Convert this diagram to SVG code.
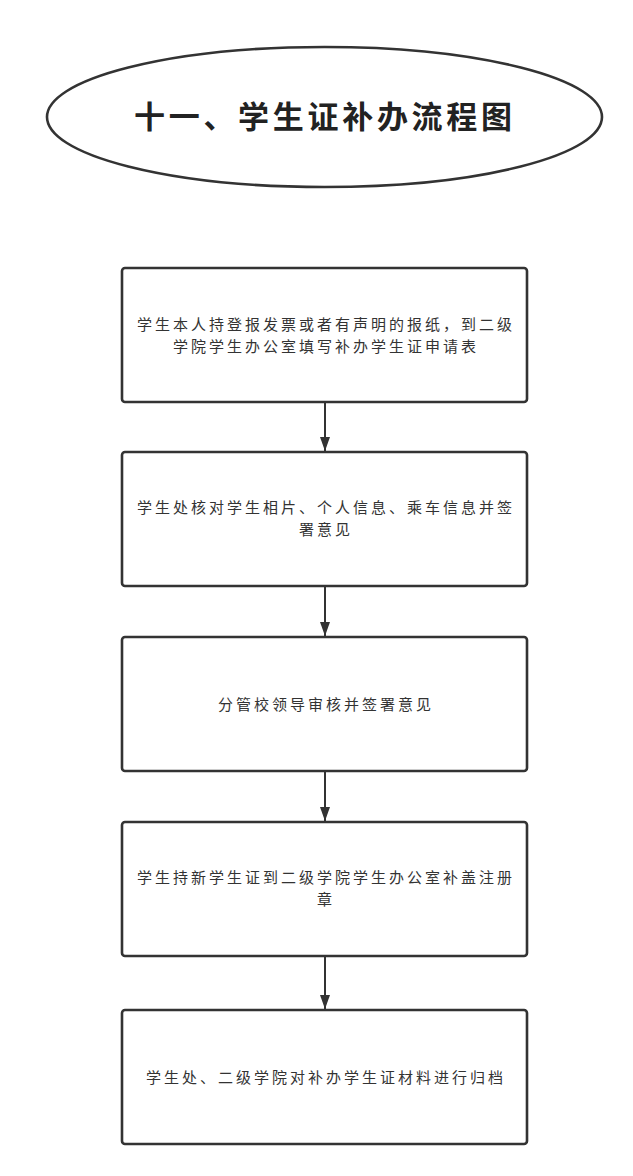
<svg xmlns="http://www.w3.org/2000/svg" width="633" height="1176" viewBox="0 0 633 1176">
<style>
.box{fill:#fff;stroke:#333;stroke-width:2.6}
.t{font-family:"Noto Sans CJK SC","Noto Sans",sans-serif;font-size:15px;fill:#333;letter-spacing:3px;text-anchor:middle}
.title{font-family:"Noto Sans CJK SC","Noto Sans",sans-serif;font-size:31px;font-weight:bold;fill:#222;letter-spacing:3.7px}
.ln{stroke:#333;stroke-width:2;fill:none}
</style>
<defs>
<marker id="ah" markerWidth="14" markerHeight="10" refX="14" refY="5" orient="auto" markerUnits="userSpaceOnUse" viewBox="0 0 14 10">
<path d="M0,0 L14,5 L0,10 Z" fill="#333"/>
</marker>
</defs>
<rect width="633" height="1176" fill="#fff"/>
<g id="title">
<ellipse cx="324.5" cy="117" rx="277.5" ry="70" fill="#fff" stroke="#333" stroke-width="2.6"/>
<text class="title" x="134" y="128">十一、学生证补办流程图</text>
</g>
<g id="node1">
<rect class="box" x="122" y="268" width="405" height="134" rx="3"/>
<text class="t" x="326" y="330">学生本人持登报发票或者有声明的报纸，到二级</text>
<text class="t" x="326" y="352">学院学生办公室填写补办学生证申请表</text>
</g>
<g id="node2">
<rect class="box" x="122" y="452" width="405" height="134" rx="3"/>
<text class="t" x="326" y="513">学生处核对学生相片、个人信息、乘车信息并签</text>
<text class="t" x="326" y="535">署意见</text>
</g>
<g id="node3">
<rect class="box" x="122" y="637" width="405" height="134" rx="3"/>
<text class="t" x="326" y="710">分管校领导审核并签署意见</text>
</g>
<g id="node4">
<rect class="box" x="122" y="822" width="405" height="134" rx="3"/>
<text class="t" x="326" y="883">学生持新学生证到二级学院学生办公室补盖注册</text>
<text class="t" x="326" y="905">章</text>
</g>
<g id="node5">
<rect class="box" x="122" y="1010" width="405" height="134" rx="3"/>
<text class="t" x="326" y="1083">学生处、二级学院对补办学生证材料进行归档</text>
</g>
<g id="connectors">
<line class="ln" x1="325" y1="403" x2="325" y2="451" marker-end="url(#ah)"/>
<line class="ln" x1="325" y1="587" x2="325" y2="636" marker-end="url(#ah)"/>
<line class="ln" x1="325" y1="772" x2="325" y2="821" marker-end="url(#ah)"/>
<line class="ln" x1="325" y1="957" x2="325" y2="1009" marker-end="url(#ah)"/>
</g>
</svg>
